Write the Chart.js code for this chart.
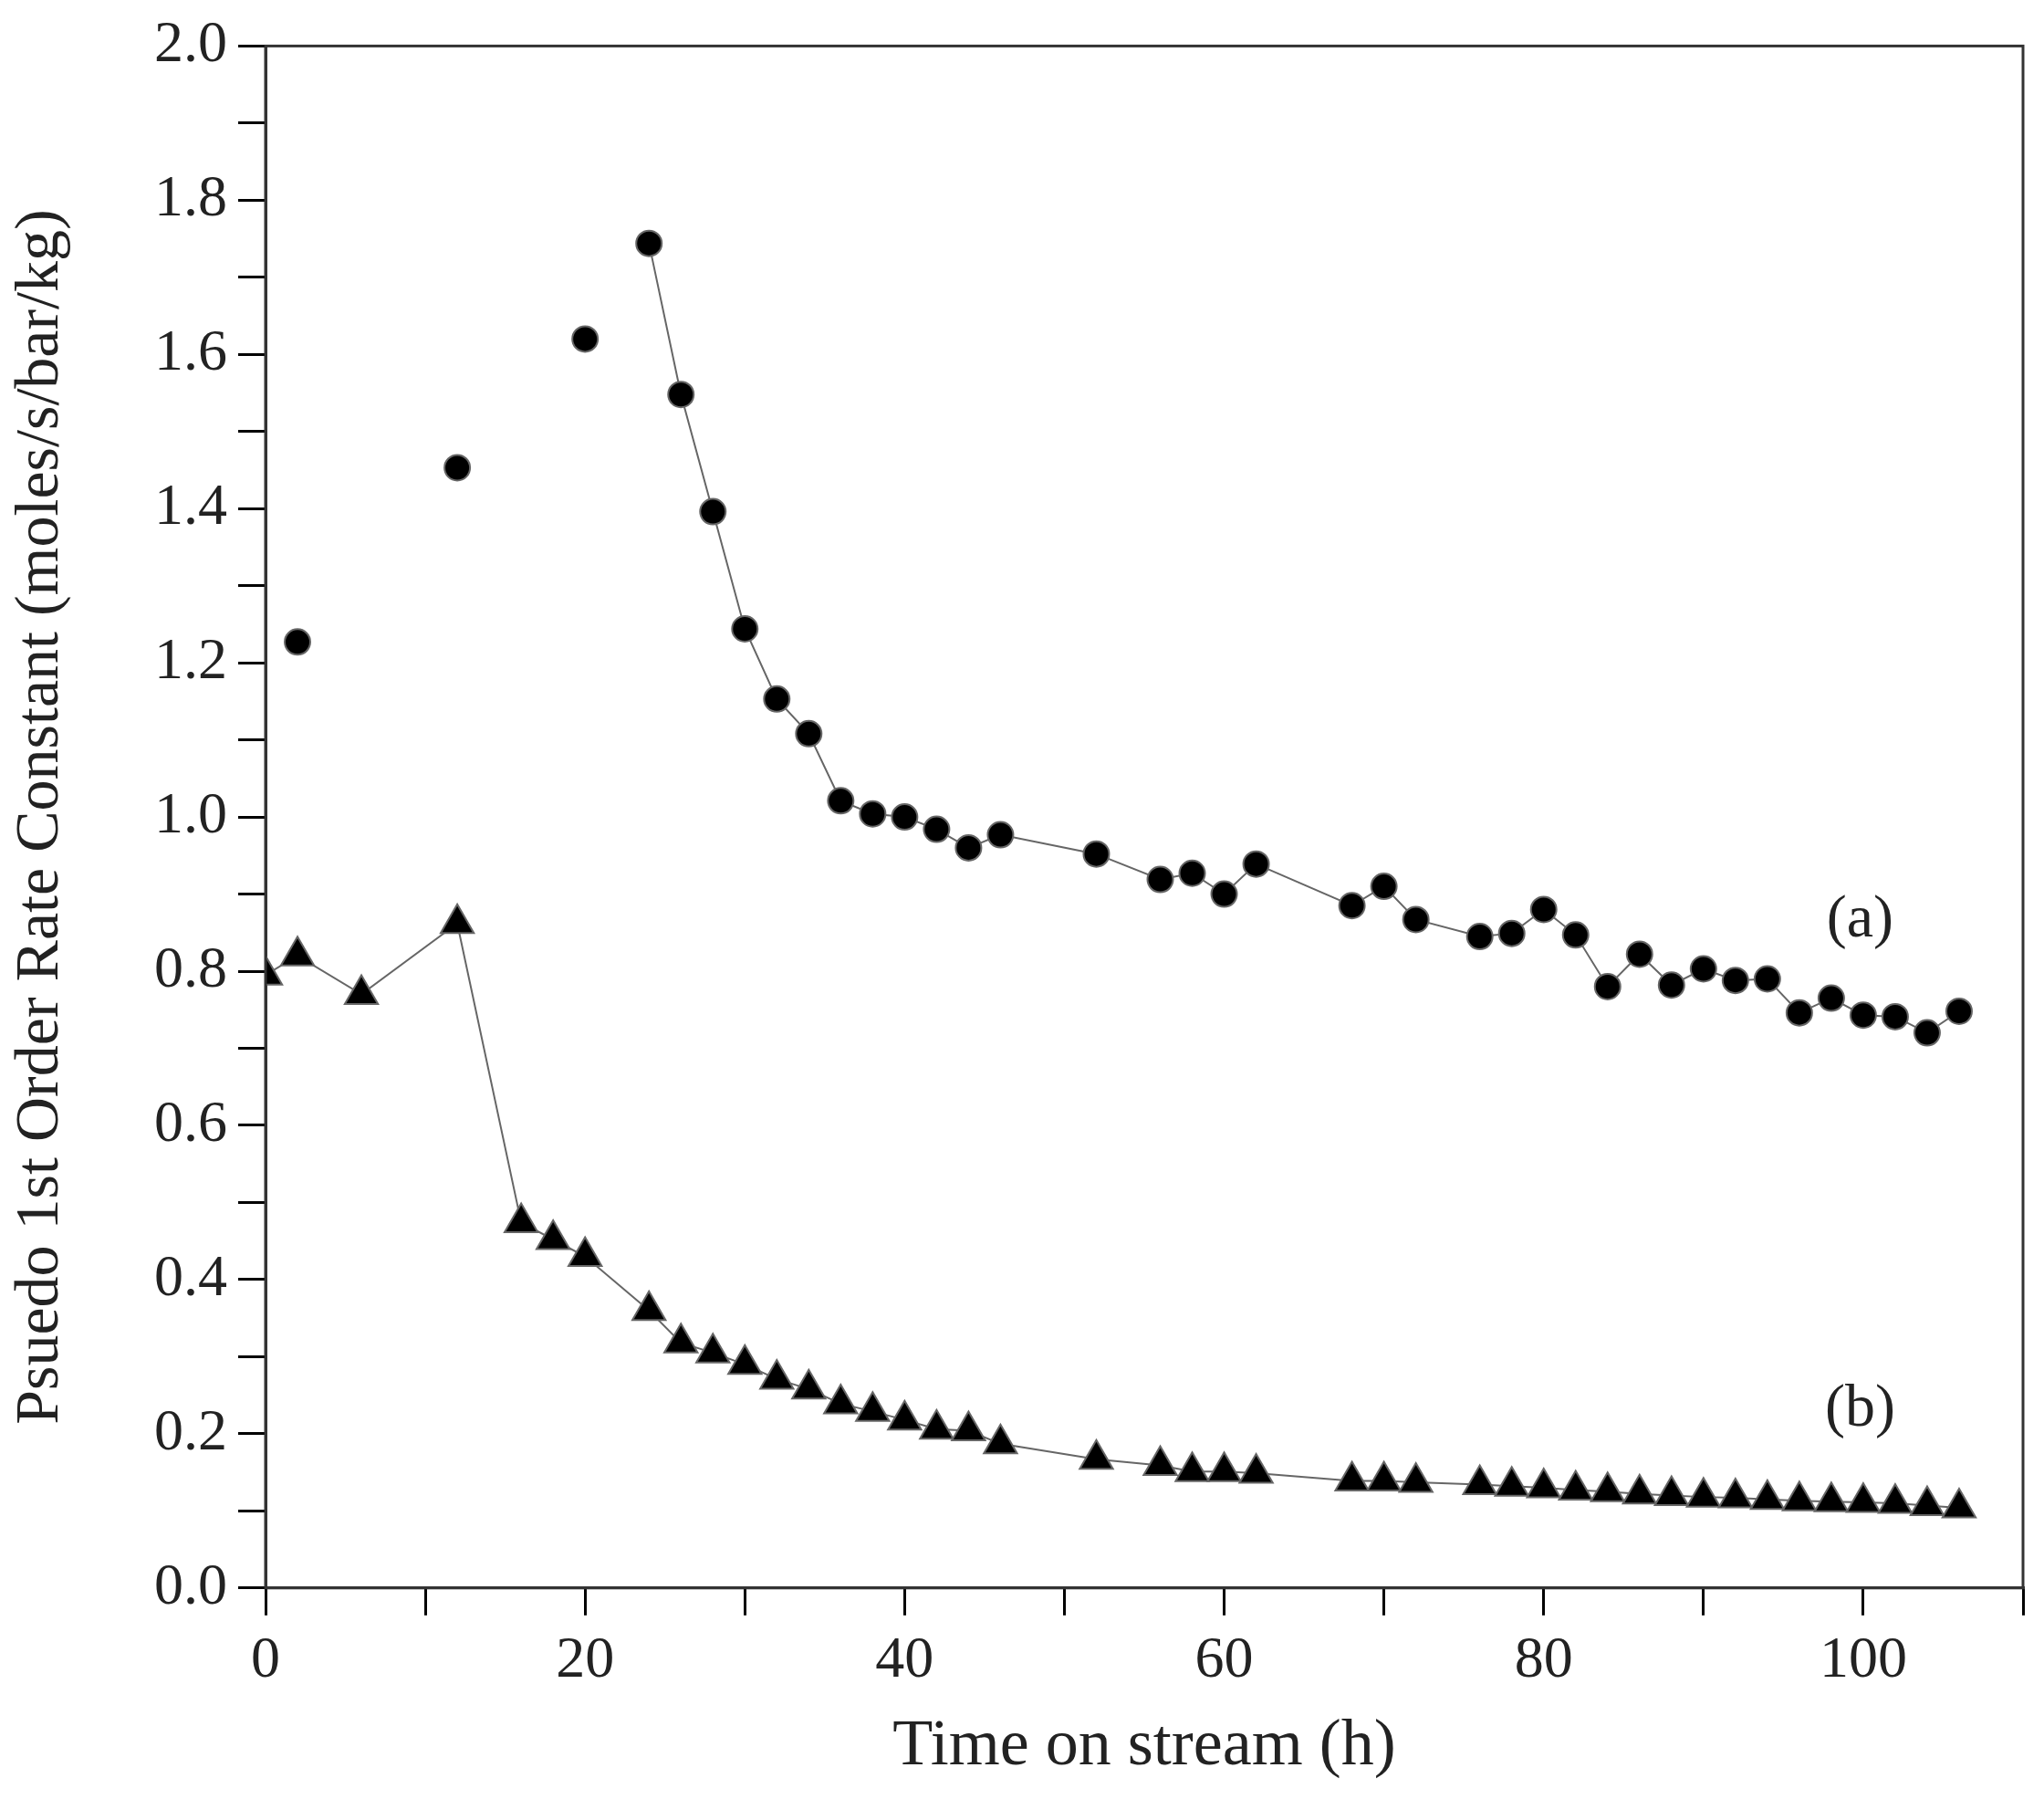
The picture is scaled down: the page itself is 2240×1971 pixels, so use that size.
<!DOCTYPE html>
<html>
<head>
<script src="https://cdn.jsdelivr.net/npm/chart.js@4"></script>
<style>
  html, body { margin: 0; padding: 0; background: #fff; }
  #wrap { width: 2240px; height: 1971px; }
</style>
</head>
<body>
<div id="wrap"><canvas id="rateChart" width="2240" height="1971"></canvas></div>
<script>
// series (a) - circles
var timeA = [2, 12, 20, 24, 26, 28, 30, 32, 34, 36, 38, 40, 42, 44, 46, 52, 56, 58, 60, 62, 68, 70, 72, 76, 78, 80, 82, 84, 86, 88, 90, 92, 94, 96, 98, 100, 102, 104, 106];
var rateA = [1.227, 1.453, 1.62, 1.744, 1.548, 1.396, 1.244, 1.153, 1.108, 1.021, 1.004, 1.0, 0.984, 0.96, 0.977, 0.952, 0.919, 0.927, 0.90, 0.939, 0.885, 0.91, 0.867, 0.845, 0.849, 0.88, 0.847, 0.78, 0.822, 0.782, 0.803, 0.788, 0.79, 0.746, 0.765, 0.743, 0.741, 0.72, 0.748];
// series (b) - triangles
var timeB = [0, 2, 6, 12, 16, 18, 20, 24, 26, 28, 30, 32, 34, 36, 38, 40, 42, 44, 46, 52, 56, 58, 60, 62, 68, 70, 72, 76, 78, 80, 82, 84, 86, 88, 90, 92, 94, 96, 98, 100, 102, 104, 106];
var rateB = [0.795, 0.82, 0.77, 0.862, 0.474, 0.452, 0.43, 0.36, 0.318, 0.305, 0.29, 0.271, 0.258, 0.239, 0.229, 0.218, 0.206, 0.204, 0.187, 0.167, 0.159, 0.151, 0.151, 0.149, 0.139, 0.139, 0.137, 0.134, 0.132, 0.13, 0.127, 0.125, 0.122, 0.12, 0.118, 0.117, 0.115, 0.113, 0.112, 0.111, 0.11, 0.107, 0.104];
var labels = [{text: '(a)', x: 99.8, y: 0.865}, {text: '(b)', x: 99.8, y: 0.231}];

function toPoints(xs, ys) {
  return xs.map(function (x, i) { return {x: x, y: ys[i]}; });
}

var FONT = '"Liberation Serif", "DejaVu Serif", serif';

var extras = {
  id: 'extras',
  afterDraw: function (chart) {
    var ctx = chart.ctx, a = chart.chartArea;
    var xs = chart.scales.x, ys = chart.scales.y;
    ctx.save();
    ctx.strokeStyle = '#333';
    ctx.lineWidth = 3;
    ctx.strokeRect(a.left, a.top, a.right - a.left, a.bottom - a.top);
    ctx.fillStyle = '#222';
    ctx.font = '66px ' + FONT;
    ctx.textAlign = 'center';
    ctx.textBaseline = 'middle';
    labels.forEach(function (l) {
      ctx.fillText(l.text, xs.getPixelForValue(l.x), ys.getPixelForValue(l.y));
    });
    ctx.restore();
  }
};

var ctx = document.getElementById('rateChart').getContext('2d');
var myChart = new Chart(ctx, {
  type: 'scatter',
  data: {
    datasets: [{
      label: '(a)',
      data: toPoints(timeA, rateA),
      showLine: true,
      borderColor: '#666',
      borderWidth: 2,
      backgroundColor: '#000',
      pointStyle: 'circle',
      pointRadius: 14,
      segment: {
        borderColor: function (c) { return c.p0.parsed.x < 24 ? 'rgba(0,0,0,0)' : '#666'; }
      }
    }, {
      label: '(b)',
      data: toPoints(timeB, rateB),
      showLine: true,
      borderColor: '#666',
      borderWidth: 2,
      backgroundColor: '#000',
      pointStyle: 'triangle',
      pointRadius: 21
    }]
  },
  options: {
    responsive: false,
    animation: false,
    layout: {padding: {top: 28, right: 20, left: 0, bottom: 10}},
    plugins: {legend: {display: false}, tooltip: {enabled: false}},
    scales: {
      x: {
        type: 'linear', min: 0, max: 110,
        grid: {drawOnChartArea: false, color: '#000', tickLength: 30, lineWidth: 3},
        border: {color: '#333', width: 3},
        ticks: {
          stepSize: 10, color: '#222', font: {family: FONT, size: 64}, padding: 12,
          callback: function (v) { return v % 20 === 0 && v <= 100 ? v : ''; }
        },
        title: {display: true, text: 'Time on stream (h)', color: '#222', font: {family: FONT, size: 72}, padding: {top: 0}}
      },
      y: {
        min: 0, max: 2.0,
        grid: {drawOnChartArea: false, color: '#000', tickLength: 30, lineWidth: 3},
        border: {color: '#333', width: 3},
        ticks: {
          stepSize: 0.1, color: '#222', font: {family: FONT, size: 64}, padding: 12,
          callback: function (v) { var r = Math.round(v * 10); return r % 2 === 0 ? (r / 10).toFixed(1) : ''; }
        },
        title: {display: true, text: 'Psuedo 1st Order Rate Constant (moles/s/bar/kg)', color: '#222', font: {family: FONT, size: 68}, padding: {bottom: 6}},
        afterFit: function (s) { s.width = 291; }
      }
    }
  },
  plugins: [extras]
});
</script>
</body>
</html>
